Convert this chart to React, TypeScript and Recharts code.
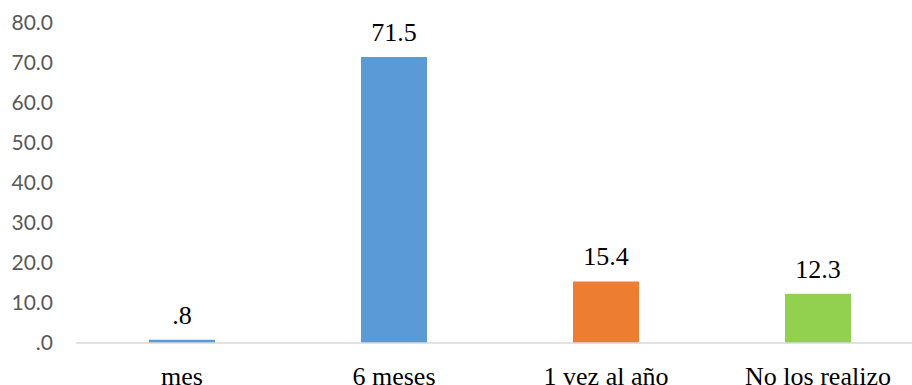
import { BarChart, Bar, XAxis, YAxis, Cell, LabelList } from 'recharts'

const categories = ['mes', '6 meses', '1 vez al año', 'No los realizo']
const values = [0.8, 71.5, 15.4, 12.3]
const barColors = ['#5B9BD5', '#5B9BD5', '#ED7D31', '#92D050']
const yTicks = [0, 10, 20, 30, 40, 50, 60, 70, 80]

const data = categories.map((name, i) => ({ name, value: values[i] }))

const SERIF = '"Liberation Serif", "Times New Roman", serif'

// Excel-style decimals: drop the leading zero (0.8 -> .8, 0 -> .0)
const fmt = (v: number) => Number(v).toFixed(1).replace(/^0\./, '.')

const CategoryTick = (props: any) => {
  const { x, y, payload } = props
  return (
    <text x={x} y={y + 19} textAnchor="middle" fontFamily={SERIF} fontSize={26} fill="#000">
      {payload.value}
    </text>
  )
}

export default function App() {
  return (
    <div
      style={{
        position: 'absolute',
        left: 0,
        top: 0,
        width: 912,
        height: 385,
        overflow: 'hidden',
        background: '#fff',
      }}
    >
      <BarChart
        width={924}
        height={400}
        data={data}
        margin={{ top: 23, right: 0, left: 0, bottom: 0 }}
      >
        <XAxis
          dataKey="name"
          height={57}
          tickLine={false}
          tickSize={0}
          tickMargin={23}
          axisLine={{ stroke: '#D9D9D9', strokeWidth: 1.5 }}
          tick={<CategoryTick />}
          interval={0}
        />
        <YAxis
          width={76}
          domain={[0, 80]}
          ticks={yTicks}
          tickFormatter={fmt}
          axisLine={false}
          tickLine={false}
          tickSize={0}
          tickMargin={23}
          tick={{ fontFamily: 'Lato, "Open Sans", sans-serif', fontSize: 21, fill: '#595959' }}
        />
        <Bar dataKey="value" barSize={66} isAnimationActive={false}>
          {data.map((d, i) => (
            <Cell key={d.name} fill={barColors[i]} />
          ))}
          <LabelList
            dataKey="value"
            position="top"
            offset={16}
            formatter={(v: any) => fmt(v)}
            style={{ fontFamily: SERIF, fontSize: 26, fill: '#000' }}
          />
        </Bar>
      </BarChart>
    </div>
  )
}
